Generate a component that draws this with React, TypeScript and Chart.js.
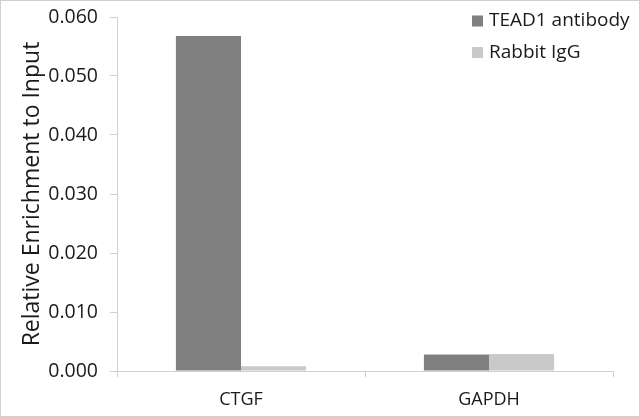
import { useEffect, useRef } from "react"
import { Chart, registerables } from "chart.js"

Chart.register(...registerables)

// Data
const categories = ["CTGF", "GAPDH"]
const seriesNames = ["TEAD1 antibody", "Rabbit IgG"]
const tead1Values = [0.0568, 0.0028]
const iggValues = [0.0008, 0.0029]
const seriesColors = ["#808080", "#c9c9c9"]

const FONT = "'Open Sans', 'Liberation Sans', sans-serif"

// Draws the legend in the top-right corner and the thin frame round the picture
const framePlugin = {
  id: "frameAndLegend",
  afterDraw(chart: Chart) {
    const ctx = chart.ctx
    ctx.save()
    ctx.strokeStyle = "#d0d0d0"
    ctx.lineWidth = 1
    ctx.strokeRect(0.5, 0.5, chart.width - 1, chart.height - 1)

    ctx.font = `19px ${FONT}`
    ctx.textBaseline = "middle"
    chart.data.datasets.forEach((ds, i) => {
      const y = 21 + i * 31.5
      ctx.fillStyle = ds.backgroundColor as string
      ctx.fillRect(472, y - 5.5, 11, 11)
      ctx.fillStyle = "#1a1a1a"
      ctx.fillText(ds.label || "", 489, y)
    })
    ctx.restore()
  },
}

export default function App() {
  const chartRef = useRef<HTMLCanvasElement>(null)
  const chartInstance = useRef<Chart | null>(null)

  useEffect(() => {
    if (!chartRef.current) return
    if (chartInstance.current) chartInstance.current.destroy()

    const ctx = chartRef.current.getContext("2d")
    if (!ctx) return

    chartInstance.current = new Chart(ctx, {
      type: "bar",
      data: {
        labels: categories,
        datasets: [
          {
            label: seriesNames[0],
            data: tead1Values,
            backgroundColor: seriesColors[0],
            categoryPercentage: 0.525,
            barPercentage: 1,
          },
          {
            label: seriesNames[1],
            data: iggValues,
            backgroundColor: seriesColors[1],
            categoryPercentage: 0.525,
            barPercentage: 1,
          },
        ],
      },
      options: {
        responsive: false,
        animation: false,
        devicePixelRatio: 1,
        layout: { padding: { top: 17, right: 27, left: 0, bottom: 0 } },
        plugins: {
          legend: { display: false },
          tooltip: { enabled: false },
        },
        scales: {
          x: {
            grid: {
              offset: true,
              drawOnChartArea: false,
              tickLength: 6,
              color: "#d0d0d0",
            },
            border: { color: "#d0d0d0" },
            ticks: {
              color: "#1a1a1a",
              padding: 12,
              font: { family: FONT, size: 18 },
            },
            afterFit: (scale: any) => {
              scale.height = 46
            },
          },
          y: {
            min: 0,
            max: 0.06,
            grid: {
              drawOnChartArea: false,
              tickLength: 7,
              color: "#d0d0d0",
            },
            border: { color: "#d0d0d0" },
            ticks: {
              stepSize: 0.01,
              color: "#1a1a1a",
              padding: 12,
              font: { family: FONT, size: 19.5 },
              callback: (v: any) => Number(v).toFixed(3),
            },
            title: {
              display: true,
              text: "Relative Enrichment to Input",
              color: "#1a1a1a",
              padding: { top: 19, bottom: 0 },
              font: { family: FONT, size: 23 },
            },
            afterFit: (scale: any) => {
              scale.width = 117
              scale.paddingTop = 0
              scale.paddingBottom = 0
            },
          },
        },
      },
      plugins: [framePlugin],
    })

    return () => {
      if (chartInstance.current) {
        chartInstance.current.destroy()
        chartInstance.current = null
      }
    }
  }, [])

  return (
    <div style={{ position: "fixed", left: 0, top: 0, width: 640, height: 417, background: "#fff" }}>
      <canvas ref={chartRef} width={640} height={417} style={{ display: "block" }} />
    </div>
  )
}
